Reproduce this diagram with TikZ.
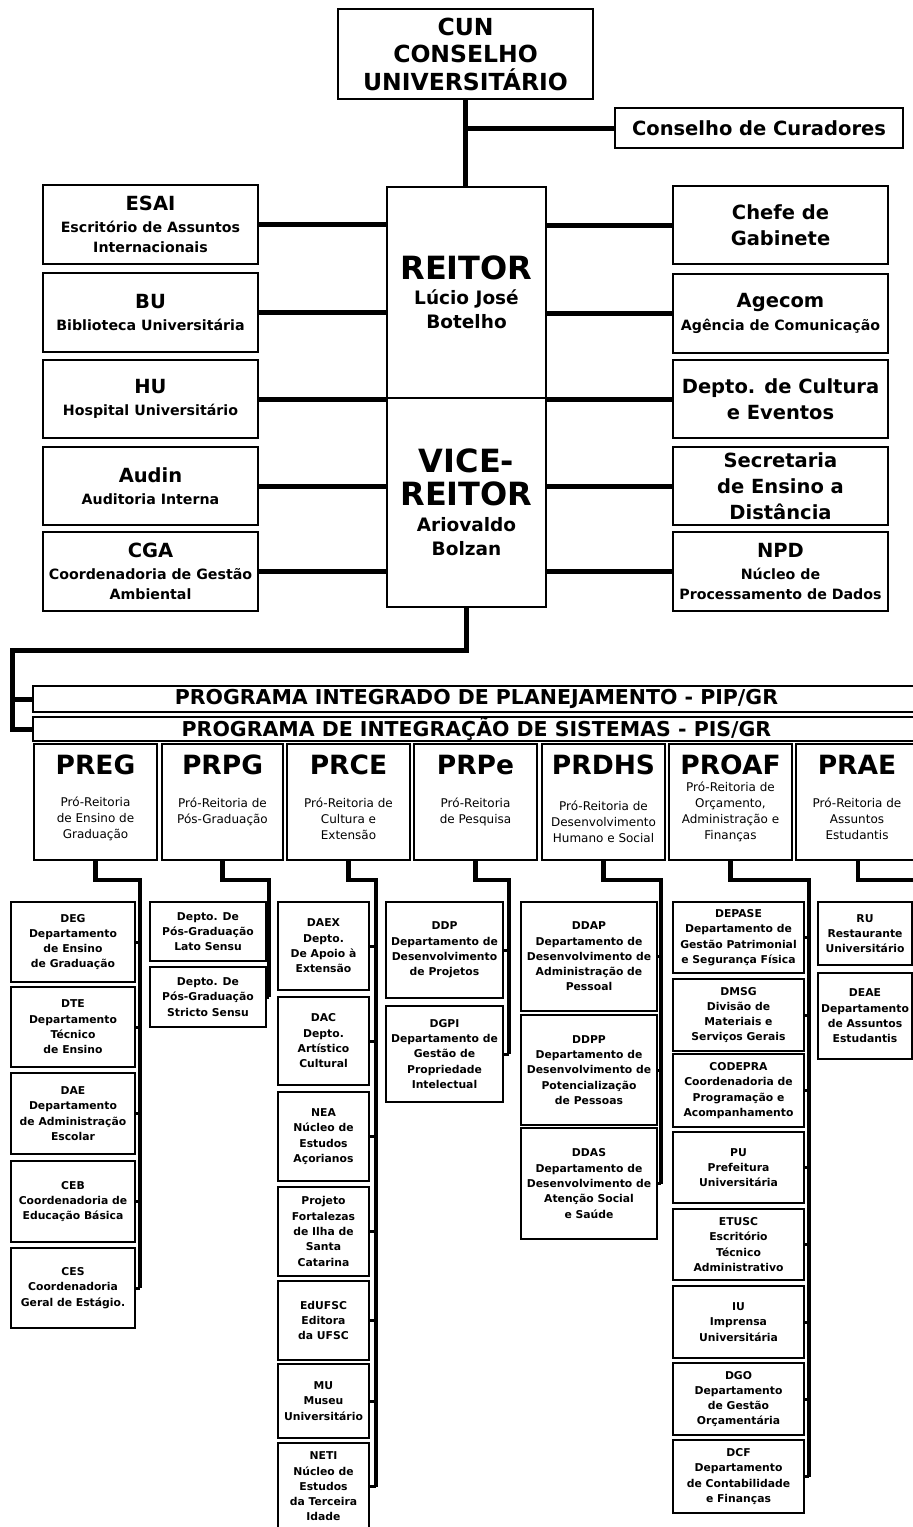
\documentclass[tikz,border=0pt]{standalone}
\usepackage{fontspec}
\setmainfont{DejaVu Sans}
\newcommand\myfs[2]{\fontsize{#1}{#2}\selectfont}
\newcommand\mybx[7]{\node[#6, minimum width=#4pt-#2pt, minimum height=#5pt-#3pt] (#1) at ({(#2+#4)/2},{(#3+#5)/2}) {#7};}
\newcommand\mysub[6]{\mybx{#1}{#2}{#3}{#4}{#5}{subbox}{#6}}
\tikzset{
  box/.style={draw, line width=2pt, inner sep=0pt, outer sep=0pt, align=center, fill=white},
  mainsub/.style={box, font=\bfseries\myfs{14.2}{20.5}},
  bigtxt/.style={box, font=\bfseries\myfs{19.5}{26}},
  cunf/.style={box, font=\bfseries\myfs{23.5}{27.5}},
  subbox/.style={box, line width=2.2pt, font=\bfseries\myfs{10.8}{15.3}},
  prbox/.style={box, line width=2.6pt},
  prtitle/.style={font=\bfseries\myfs{26.5}{30}, inner sep=0pt},
  prsub/.style={font=\myfs{12}{16}, align=center, inner sep=0pt},
  conn/.style={line width=5pt},
  spine/.style={line width=4.5pt},
  stub/.style={line width=3pt}
}
\begin{document}
\begin{tikzpicture}[x=1pt,y=-1pt]
\useasboundingbox (0,0) rectangle (913,1527);
\fill[white] (0,0) rectangle (913,1527);
\clip (0,0) rectangle (913,1527);

% ---- top ----
\mybx{cun}{338}{9}{593}{99}{cunf}{CUN\\CONSELHO\\UNIVERSITÁRIO}
\mybx{cons}{615}{108}{903}{148}{box,font=\bfseries\myfs{19.5}{24}}{Conselho de Curadores}
\mybx{reitor}{387}{187}{546}{398}{box,font=\bfseries\myfs{18.5}{24}}{\myfs{32}{24}REITOR\\[1pt]Lúcio José\\Botelho}
\mybx{vice}{387}{398}{546}{607}{box,font=\bfseries\myfs{18.5}{24}}{\myfs{32}{24}VICE-\\[8pt]\myfs{32}{24}REITOR\\[2pt]Ariovaldo\\Bolzan}

% ---- left side ----
\mybx{esai}{43}{185}{258}{264}{mainsub}{\myfs{19.5}{20}ESAI\\[1pt]Escritório de Assuntos\\Internacionais}
\mybx{bu}{43}{273}{258}{352}{mainsub}{\myfs{19.5}{20}BU\\[2pt]Biblioteca Universitária}
\mybx{hu}{43}{360}{258}{438}{mainsub}{\myfs{19.5}{20}HU\\[2pt]Hospital Universitário}
\mybx{audin}{43}{447}{258}{525}{mainsub}{\myfs{19.5}{20}Audin\\[2pt]Auditoria Interna}
\mybx{cga}{43}{532}{258}{611}{mainsub}{\myfs{19.5}{20}CGA\\[1pt]Coordenadoria de Gestão\\Ambiental}

% ---- right side ----
\mybx{chefe}{673}{186}{888}{264}{bigtxt}{Chefe de\\Gabinete}
\mybx{agecom}{673}{274}{888}{353}{mainsub}{\myfs{19.5}{20}Agecom\\[2pt]Agência de Comunicação}
\mybx{cultura}{673}{360}{888}{438}{bigtxt}{Depto. de Cultura\\e Eventos}
\mybx{sec}{673}{447}{888}{525}{bigtxt}{Secretaria\\de Ensino a\\Distância}
\mybx{npd}{673}{532}{888}{611}{mainsub}{\myfs{19.5}{20}NPD\\[1pt]Núcleo de\\Processamento de Dados}

% ---- connectors top ----
\draw[conn] (cun.south) -- (cun.south |- reitor.north);
\draw[conn] (cun.south |- cons.west) -- (cons.west);
\foreach \n in {esai,bu,hu,audin,cga} \draw[conn] (\n.east) -- (\n.east -| reitor.west);
\foreach \n in {chefe,agecom,cultura,sec,npd} \draw[conn] (\n.west) -- (\n.west -| reitor.east);

% ---- programs ----
\mybx{pip}{33}{686}{920}{712}{box,font=\bfseries\myfs{20.5}{24}}{PROGRAMA INTEGRADO DE PLANEJAMENTO - PIP/GR}
\mybx{pis}{33}{717}{920}{741}{box,font=\bfseries\myfs{20.5}{24}}{PROGRAMA DE INTEGRAÇÃO DE SISTEMAS - PIS/GR}
\coordinate (bend) at (12,650);
\draw[conn] (vice.south) |- (bend) |- (pis.west);
\draw[conn] (bend |- pip.west) -- (pip.west);

% ---- pro-reitorias ----
\mybx{preg}{34}{744}{157}{860}{prbox}{}
\mybx{prpg}{162}{744}{283}{860}{prbox}{}
\mybx{prce}{287}{744}{410}{860}{prbox}{}
\mybx{prpe}{414}{744}{537}{860}{prbox}{}
\mybx{prdhs}{542}{744}{665}{860}{prbox}{}
\mybx{proaf}{669}{744}{792}{860}{prbox}{}
\mybx{prae}{796}{744}{920}{860}{prbox}{}

\node[prtitle] (tpreg) at (95.5,765) {PREG};
\node[prtitle] (tprpg) at (222.5,765) {PRPG};
\node[prtitle] (tprce) at (348.5,765) {PRCE};
\node[prtitle] (tprpe) at (475.5,765) {PRPe};
\node[prtitle] (tprdhs) at (603.5,765) {PRDHS};
\node[prtitle] (tproaf) at (730.5,765) {PROAF};
\node[prtitle] (tprae) at (857,765) {PRAE};

\node[prsub] (spreg) at (95.5,819) {Pró-Reitoria\\de Ensino de\\Graduação};
\node[prsub] (sprpg) at (222.5,811.5) {Pró-Reitoria de\\Pós-Graduação};
\node[prsub] (sprce) at (348.5,819) {Pró-Reitoria de\\Cultura e\\Extensão};
\node[prsub] (sprpe) at (475.5,811.5) {Pró-Reitoria\\de Pesquisa};
\node[prsub] (sprdhs) at (603.5,822) {Pró-Reitoria de\\Desenvolvimento\\Humano e Social};
\node[prsub] (sproaf) at (730.5,812) {Pró-Reitoria de\\Orçamento,\\Administração e\\Finanças};
\node[prsub] (sprae) at (857,819) {Pró-Reitoria de\\Assuntos\\Estudantis};

% ---- PREG column ----
\mysub{deg}{11}{902}{135}{982}{DEG\\Departamento\\de Ensino\\de Graduação}
\mysub{dte}{11}{987}{135}{1067}{DTE\\Departamento\\Técnico\\de Ensino}
\mysub{dae}{11}{1073}{135}{1154}{DAE\\Departamento\\de Administração\\Escolar}
\mysub{ceb}{11}{1161}{135}{1242}{CEB\\Coordenadoria de\\Educação Básica}
\mysub{ces}{11}{1248}{135}{1328}{CES\\Coordenadoria\\Geral de Estágio.}
% ---- PRPG column ----
\mysub{lato}{150}{902}{266}{961}{Depto. De\\Pós-Graduação\\Lato Sensu}
\mysub{stricto}{150}{967}{266}{1027}{Depto. De\\Pós-Graduação\\Stricto Sensu}
% ---- PRCE column ----
\mysub{daex}{278}{902}{369}{990}{DAEX\\Depto.\\De Apoio à\\Extensão}
\mysub{dac}{278}{997}{369}{1085}{DAC\\Depto.\\Artístico\\Cultural}
\mysub{nea}{278}{1092}{369}{1181}{NEA\\Núcleo de\\Estudos\\Açorianos}
\mysub{proj}{278}{1187}{369}{1276}{Projeto\\Fortalezas\\de Ilha de\\Santa\\Catarina}
\mysub{edufsc}{278}{1281}{369}{1360}{EdUFSC\\Editora\\da UFSC}
\mysub{mu}{278}{1364}{369}{1438}{MU\\Museu\\Universitário}
\mysub{neti}{278}{1443}{369}{1530}{NETI\\Núcleo de\\Estudos\\da Terceira\\Idade}
% ---- PRPe column ----
\mysub{ddp}{386}{902}{503}{998}{DDP\\Departamento de\\Desenvolvimento\\de Projetos}
\mysub{dgpi}{386}{1006}{503}{1102}{DGPI\\Departamento de\\Gestão de\\Propriedade\\Intelectual}
% ---- PRDHS column ----
\mysub{ddap}{521}{902}{657}{1011}{DDAP\\Departamento de\\Desenvolvimento de\\Administração de\\Pessoal}
\mysub{ddpp}{521}{1015}{657}{1125}{DDPP\\Departamento de\\Desenvolvimento de\\Potencialização\\de Pessoas}
\mysub{ddas}{521}{1128}{657}{1239}{DDAS\\Departamento de\\Desenvolvimento de\\Atenção Social\\e Saúde}
% ---- PROAF column ----
\mysub{depase}{673}{902}{804}{973}{DEPASE\\Departamento de\\Gestão Patrimonial\\e Segurança Física}
\mysub{dmsg}{673}{979}{804}{1051}{DMSG\\Divisão de\\Materiais e\\Serviços Gerais}
\mysub{codepra}{673}{1054}{804}{1127}{CODEPRA\\Coordenadoria de\\Programação e\\Acompanhamento}
\mysub{pu}{673}{1132}{804}{1203}{PU\\Prefeitura\\Universitária}
\mysub{etusc}{673}{1209}{804}{1280}{ETUSC\\Escritório\\Técnico\\Administrativo}
\mysub{iu}{673}{1286}{804}{1358}{IU\\Imprensa\\Universitária}
\mysub{dgo}{673}{1363}{804}{1435}{DGO\\Departamento\\de Gestão\\Orçamentária}
\mysub{dcf}{673}{1440}{804}{1513}{DCF\\Departamento\\de Contabilidade\\e Finanças}
% ---- PRAE column ----
\mysub{ru}{818}{902}{912}{965}{RU\\Restaurante\\Universitário}
\mysub{deae}{818}{973}{912}{1059}{DEAE\\Departamento\\de Assuntos\\Estudantis}

% ---- column connectors ----
\coordinate (s1) at (140,880);
\coordinate (s2) at (269,880);
\coordinate (s3) at (376,880);
\coordinate (s4) at (509,880);
\coordinate (s5) at (661,880);
\coordinate (s6) at (809,880);
\coordinate (s7) at (920,880);
\draw[spine] (preg.south) |- (s1) -- (s1 |- ces.east);
\draw[spine] (prpg.south) |- (s2) -- (s2 |- stricto.east);
\draw[spine] (prce.south) |- (s3) -- (s3 |- neti.east);
\draw[spine] (prpe.south) |- (s4) -- (s4 |- dgpi.east);
\draw[spine] (prdhs.south) |- (s5) -- (s5 |- ddas.east);
\draw[spine] (proaf.south) |- (s6) -- (s6 |- dcf.east);
\draw[spine] (prae.south) |- (s7);
\foreach \n in {deg,dte,dae,ceb,ces} \draw[stub] (\n.east) -- (\n.east -| s1);
\foreach \n in {lato,stricto} \draw[stub] (\n.east) -- (\n.east -| s2);
\foreach \n in {daex,dac,nea,proj,edufsc,mu,neti} \draw[stub] (\n.east) -- (\n.east -| s3);
\foreach \n in {ddp,dgpi} \draw[stub] (\n.east) -- (\n.east -| s4);
\foreach \n in {ddap,ddpp,ddas} \draw[stub] (\n.east) -- (\n.east -| s5);
\foreach \n in {depase,dmsg,codepra,pu,etusc,iu,dgo,dcf} \draw[stub] (\n.east) -- (\n.east -| s6);
\end{tikzpicture}
\end{document}
